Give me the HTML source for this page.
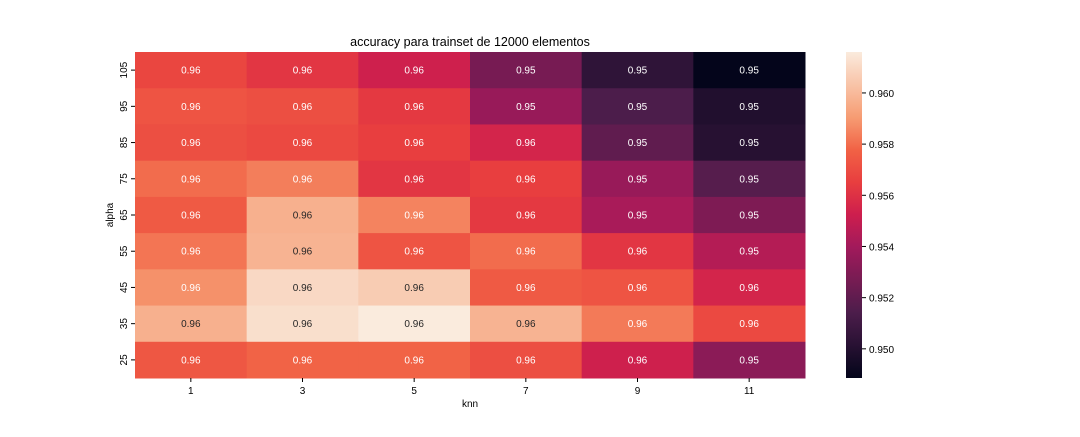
<!DOCTYPE html>
<html><head><meta charset="utf-8"><style>
body{margin:0;background:#fff;font-family:"Liberation Sans",sans-serif;}
svg text{font-family:"Liberation Sans",sans-serif;}
</style></head><body>
<svg id="chart" width="1080" height="432" xmlns="http://www.w3.org/2000/svg">
<text x="470" y="46" text-anchor="middle" font-size="12.5" fill="#000">accuracy para trainset de 12000 elementos</text>
<g id="cells"></g>
<g id="axes"></g>
<defs><linearGradient id="cbg" x1="0" y1="1" x2="0" y2="0"></linearGradient></defs>
<rect x="846" y="52" width="16" height="326" fill="url(#cbg)"/>
<g id="cbaxis"></g>
<text x="470" y="407" text-anchor="middle" font-size="10">knn</text>
<text transform="translate(113,215) rotate(-90)" text-anchor="middle" font-size="10">alpha</text>
</svg>
<script>
const knn = [1,3,5,7,9,11];
const alpha = [105,95,85,75,65,55,45,35,25];
const row105 = [0.9568,0.9562,0.9553,0.9527,0.9504,0.9489];
const row95 = [0.9573,0.9571,0.9563,0.9537,0.9514,0.9499];
const row85 = [0.9571,0.9569,0.9565,0.9555,0.9520,0.9501];
const row75 = [0.9580,0.9584,0.9562,0.9565,0.9537,0.9517];
const row65 = [0.9575,0.9597,0.9585,0.9563,0.9542,0.9529];
const row55 = [0.9582,0.9598,0.9573,0.9580,0.9562,0.9545];
const row45 = [0.9588,0.9610,0.9606,0.9575,0.9573,0.9555];
const row35 = [0.9597,0.9612,0.9616,0.9598,0.9583,0.9569];
const row25 = [0.9574,0.9578,0.9578,0.9571,0.9553,0.9533];
const values = [row105,row95,row85,row75,row65,row55,row45,row35,row25];
const cbTicks = [0.950,0.952,0.954,0.956,0.958,0.960];
const vmin = 0.94886, vmax = 0.9616;

const stops = [[0,[3,5,26]],[0.2,[76,29,75]],[0.4,[161,26,91]],[0.5,[205,30,78]],[0.6,[232,62,63]],[0.7,[241,98,69]],[0.8,[246,156,115]],[1,[250,235,221]]];
function cmap(t){t=Math.max(0,Math.min(1,t));
 for(let i=0;i<stops.length-1;i++){const a=stops[i],b=stops[i+1];
  if(t<=b[0]){const f=(t-a[0])/(b[0]-a[0]);return a[1].map((c,k)=>Math.round(c+(b[1][k]-c)*f));}}
 return stops[stops.length-1][1];}
const X0=135,X1=805,Y0=52,Y1=378;
const cw=(X1-X0)/knn.length, ch=(Y1-Y0)/alpha.length;
const xs=i=>X0+i*cw, ys=j=>Y0+j*ch;
const NS="http://www.w3.org/2000/svg";
function el(tag,attrs,parent){const e=document.createElementNS(NS,tag);for(const k in attrs)e.setAttribute(k,attrs[k]);parent.appendChild(e);return e;}
const cells=document.getElementById('cells'), axes=document.getElementById('axes');
function lum(c){const l=c.map(v=>{v/=255;return v<=0.03928?v/12.92:Math.pow((v+0.055)/1.055,2.4);});return 0.2126*l[0]+0.7152*l[1]+0.0722*l[2];}
values.forEach((row,j)=>row.forEach((v,i)=>{
 const c=cmap((v-vmin)/(vmax-vmin));
 const r=el('rect',{x:xs(i),y:ys(j),width:cw+0.5,height:ch+0.5,fill:`rgb(${c})`},cells);
 
 
 const t=el('text',{x:xs(i)+cw/2,y:ys(j)+ch/2+3.5,'text-anchor':'middle','font-size':'10',fill:lum(c)<0.408?'#fff':'#262626'},cells);
 t.textContent=v.toFixed(2);
 
 
}));
knn.forEach((k,i)=>{const x=xs(i)+cw/2;
 el('line',{x1:x,x2:x,y1:Y1,y2:Y1+4,stroke:'#000'},axes);
 const t=el('text',{x:x,y:Y1+16,'text-anchor':'middle','font-size':'10'},axes);t.textContent=k;
 
 });
alpha.forEach((a,j)=>{const y=ys(j)+ch/2;
 el('line',{x1:X0-4,x2:X0,y1:y,y2:y,stroke:'#000'},axes);
 const t=el('text',{transform:`translate(${X0-8},${y}) rotate(-90)`,'text-anchor':'middle','font-size':'10'},axes);t.textContent=a;
 
 });
const g=document.getElementById('cbg');
for(let s=0;s<=40;s++){const c=cmap(s/40);el('stop',{offset:s/40,'stop-color':`rgb(${c})`},g);}
const cb=document.getElementById('cbaxis');
cbTicks.forEach(v=>{const y=Y1-(v-vmin)/(vmax-vmin)*(Y1-Y0);
 el('line',{x1:862,x2:866,y1:y,y2:y,stroke:'#000'},cb);
 const t=el('text',{x:869,y:y+4,'font-size':'10'},cb);t.textContent=v.toFixed(3);
 
 });
</script>
</body></html>
